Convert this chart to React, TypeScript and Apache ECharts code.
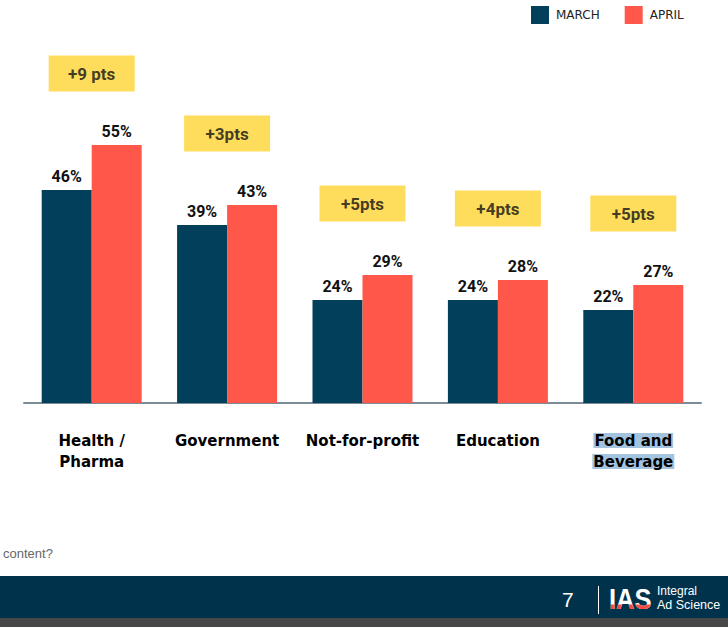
import React, { useEffect, useRef } from "react";
import * as echarts from "echarts";

const categories = ["Health /\nPharma", "Government", "Not-for-profit", "Education", "Food and\nBeverage"];
const march = [46, 39, 24, 24, 22];
const april = [55, 43, 29, 28, 27];
const changeLabels = ["+9 pts", "+3pts", "+5pts", "+4pts", "+5pts"];
const seriesNames = ["MARCH", "APRIL"];

const NAVY = "#013F5A";
const CORAL = "#FF584A";
const YELLOW = "#FFD533";

export default function App() {
  const ref = useRef<HTMLDivElement>(null);
  useEffect(() => {
    document.body.style.margin = "0";
    const chart = echarts.init(ref.current!, null, { renderer: "svg" });
    const boxValues = march.map((m, i) => Math.max(m, april[i]) + 14.3);
    const valueLabel = {
      show: true,
      position: "top",
      distance: 6,
      formatter: "{c}%",
      fontFamily: "Roboto",
      fontWeight: "bold",
      fontSize: 16,
      color: "#111",
    };
    const logoText = {
      text: "IAS",
      fontFamily: "Liberation Sans",
      fontWeight: "bold",
      fontSize: 30,
      verticalAlign: "bottom",
    };
    chart.setOption({
      animation: false,
      backgroundColor: "#ffffff",
      legend: {
        left: 531,
        top: 6,
        padding: 0,
        itemWidth: 18,
        itemHeight: 18,
        itemGap: 25,
        icon: "rect",
        data: seriesNames,
        textStyle: { fontFamily: "DejaVu Sans", fontSize: 12, color: "#222", padding: [0, 0, 0, 2] },
      },
      grid: { left: 24, right: 27, top: 40, bottom: 224 },
      xAxis: {
        type: "category",
        data: categories,
        axisLine: { lineStyle: { color: "#7C8C96", width: 2 } },
        axisTick: { show: false },
        axisLabel: {
          interval: 0,
          margin: 27,
          fontFamily: "DejaVu Sans",
          fontWeight: "bold",
          fontSize: 15,
          lineHeight: 21,
          color: "#000",
          formatter: (v: string) =>
            v.startsWith("Food") ? v.split("\n").map((s) => `{hl|${s}}`).join("\n") : v,
          rich: {
            hl: {
              backgroundColor: "#A3C3DF",
              fontFamily: "DejaVu Sans",
              fontWeight: "bold",
              fontSize: 15,
              lineHeight: 21,
              color: "#000",
              padding: [0, 1],
            },
          },
        },
      },
      yAxis: {
        type: "value",
        min: 3.4,
        max: 76,
        show: false,
        splitLine: { show: false },
      },
      series: [
        {
          name: seriesNames[0],
          type: "bar",
          data: march,
          barWidth: 50,
          barGap: "0%",
          itemStyle: { color: NAVY },
          emphasis: { disabled: true },
          label: valueLabel,
        },
        {
          name: seriesNames[1],
          type: "bar",
          data: april,
          barWidth: 50,
          itemStyle: { color: CORAL },
          emphasis: { disabled: true },
          label: valueLabel,
        },
        {
          type: "scatter",
          data: boxValues.map((v, i) => [i, v]),
          symbol: "rect",
          symbolSize: [86, 36],
          itemStyle: { color: YELLOW },
          emphasis: { disabled: true },
          z: 5,
          label: {
            show: true,
            position: "inside",
            formatter: (p: any) => changeLabels[p.dataIndex],
            fontFamily: "Roboto",
            fontWeight: "bold",
            fontSize: 17,
            color: "#111",
          },
        },
        {
          type: "custom",
          coordinateSystem: "none",
          silent: true,
          z: 20,
          data: [0],
          renderItem: () => ({
            type: "group",
            children: [
              {
                type: "text",
                x: 609,
                y: 614,
                scaleX: 0.85,
                style: { ...logoText, fill: "#ffffff" },
              },
              {
                type: "text",
                x: 609,
                y: 614,
                scaleX: 0.85,
                style: { ...logoText, fill: "#F04E45" },
                clipPath: { type: "rect", shape: { x: -10, y: -9.5, width: 80, height: 20 } },
              },
            ],
          }),
        },
      ],
      graphic: [
        {
          type: "text",
          left: 3,
          top: 547,
          style: { text: "content?", fontFamily: "Liberation Sans", fontSize: 13, fill: "#666" },
        },
        {
          type: "rect",
          left: 0,
          top: 576,
          shape: { width: 728, height: 42 },
          style: { fill: "#00334B" },
        },
        {
          type: "rect",
          left: 0,
          top: 618,
          shape: { width: 728, height: 9 },
          style: { fill: "#474747" },
        },
        {
          type: "text",
          left: 562,
          top: 589,
          style: { text: "7", fontFamily: "Liberation Sans", fontSize: 21, fill: "#ffffff" },
        },
        {
          type: "line",
          shape: { x1: 598.5, y1: 586, x2: 598.5, y2: 614 },
          style: { stroke: "#ffffff", lineWidth: 1 },
        },
        {
          type: "text",
          left: 657,
          top: 585,
          style: { text: "Integral", fontFamily: "Liberation Sans", fontSize: 12, fill: "#ffffff" },
        },
        {
          type: "text",
          left: 657,
          top: 598,
          style: { text: "Ad Science", fontFamily: "Liberation Sans", fontSize: 12.5, fill: "#ffffff" },
        },
      ],
    });
    return () => chart.dispose();
  }, []);
  return <div ref={ref} style={{ width: 728, height: 627 }} />;
}
